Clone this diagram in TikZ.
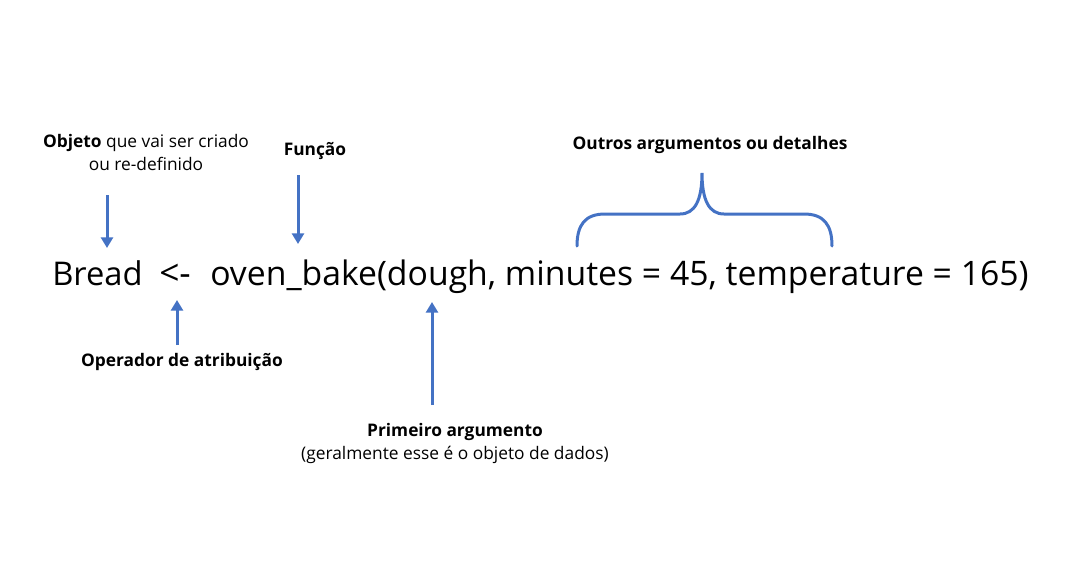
\documentclass[tikz,border=0pt]{standalone}
\usepackage{fontspec}
\setmainfont{Open Sans}
\usetikzlibrary{arrows.meta}
\definecolor{arrowblue}{HTML}{4472C4}
\tikzset{
  lbl/.style={font=\fontsize{13}{17.25}\selectfont, inner sep=0pt, align=center},
  code/.style={font=\fontsize{25.3}{30}\selectfont, inner sep=0pt, anchor=base west},
  bluearrow/.style={draw=arrowblue, line width=2.25pt, -{Triangle[width=9pt,length=8pt]}},
  bracestyle/.style={draw=arrowblue, line width=2.25pt, line cap=round}
}
\begin{document}
\begin{tikzpicture}[x=0.75pt,y=-0.75pt]
\useasboundingbox (0,0) rectangle (1065,579);
% code line
\node[code, font=\fontsize{24.5}{30}\selectfont] (bread) at (52,285) {Bread};
\node[code, font=\fontsize{26.5}{30}\selectfont] (assign) at (159,285) {<-};
\node[code] (call) at (210,285) {oven\_bake(dough, minutes = 45, temperature = 165)};
% labels
\node[lbl] (objeto) at (146,152) {\textbf{Objeto} que vai ser criado\\ou re-definido};
\node[lbl] (funcao) at (315,151) {\textbf{Função}};
\node[lbl] (operador) at (182,362) {\textbf{Operador de atribuição}};
\node[lbl] (primeiro) at (455,443) {\textbf{Primeiro argumento}\\(geralmente esse é o objeto de dados)};
\node[lbl] (outros) at (710,145) {\textbf{Outros argumentos ou detalhes}};
% arrow coordinates
\coordinate (a1s) at (107,195); \coordinate (a1e) at (107,248);
\coordinate (a2s) at (298,175); \coordinate (a2e) at (298,244);
\coordinate (a3s) at (177,345); \coordinate (a3e) at (177,300);
\coordinate (a4s) at (432,405); \coordinate (a4e) at (432,302);
\draw[bluearrow] (a1s) -- (a1e);
\draw[bluearrow] (a2s) -- (a2e);
\draw[bluearrow] (a3s) -- (a3e);
\draw[bluearrow] (a4s) -- (a4e);
% brace
\coordinate (bl) at (577,246);
\coordinate (br) at (832,246);
\coordinate (bc) at (702,173);
\draw[bracestyle] (bl) .. controls (577,225) and (585,214) .. (605,214)
  -- (680,214) .. controls (695,214) and (702,200) .. (bc)
  .. controls (702,200) and (709,214) .. (724,214)
  -- (804,214) .. controls (824,214) and (832,225) .. (br);
\end{tikzpicture}
\end{document}
